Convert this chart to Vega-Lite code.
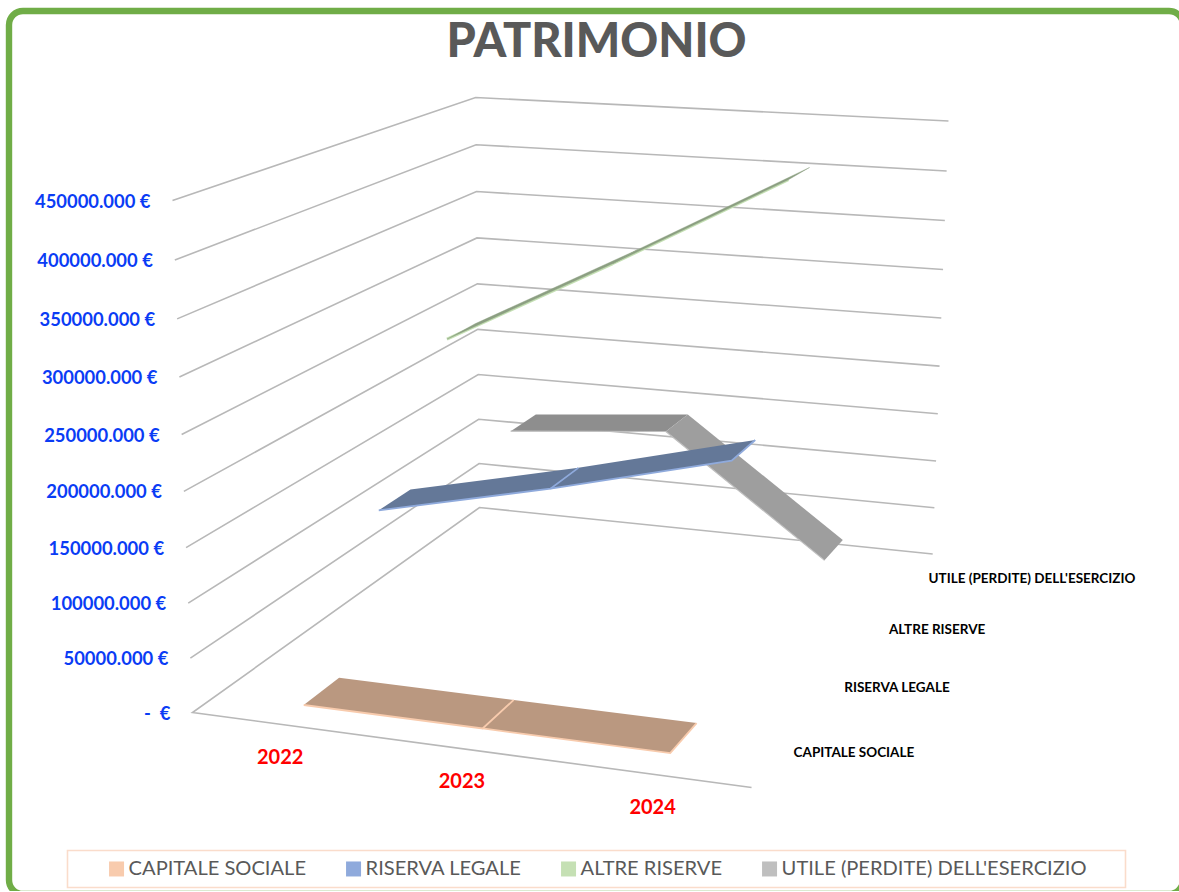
{"$schema":"https://vega.github.io/schema/vega-lite/v6.json","width":1174,"height":883,"padding":{"left":9,"top":11,"right":-4,"bottom":-3},"autosize":"none","background":"white","view":{"stroke":"#70AD47","strokeWidth":6.4,"cornerRadius":14,"fill":"white"},"datasets":{"series":[{"series":"UTILE (PERDITE) DELL'ESERCIZIO","year":2022,"value":124000},{"series":"UTILE (PERDITE) DELL'ESERCIZIO","year":2023,"value":138700},{"series":"UTILE (PERDITE) DELL'ESERCIZIO","year":2024,"value":20000},{"series":"ALTRE RISERVE","year":2022,"value":257400},{"series":"ALTRE RISERVE","year":2023,"value":342600},{"series":"ALTRE RISERVE","year":2024,"value":431400},{"series":"RISERVA LEGALE","year":2022,"value":132000},{"series":"RISERVA LEGALE","year":2023,"value":169000},{"series":"RISERVA LEGALE","year":2024,"value":210700},{"series":"CAPITALE SOCIALE","year":2022,"value":1000},{"series":"CAPITALE SOCIALE","year":2023,"value":1000},{"series":"CAPITALE SOCIALE","year":2024,"value":1000}],"levels":[{"level":0,"label":"- \u00a0€"},{"level":50000,"label":"50000.000 €"},{"level":100000,"label":"100000.000 €"},{"level":150000,"label":"150000.000 €"},{"level":200000,"label":"200000.000 €"},{"level":250000,"label":"250000.000 €"},{"level":300000,"label":"300000.000 €"},{"level":350000,"label":"350000.000 €"},{"level":400000,"label":"400000.000 €"},{"level":450000,"label":"450000.000 €"}],"years":[{"year":"2022"},{"year":"2023"},{"year":"2024"}],"names":[{"series":"CAPITALE SOCIALE"},{"series":"RISERVA LEGALE"},{"series":"ALTRE RISERVE"},{"series":"UTILE (PERDITE) DELL'ESERCIZIO"}]},"encoding":{"x":{"field":"px","type":"quantitative","axis":{"orient":"top","title":"PATRIMONIO","titleX":587,"titleY":45.5,"titleAlign":"center","titleAnchor":null,"titleBaseline":"alphabetic","titleFont":"Lato","titleFontWeight":900,"titleFontSize":46.8,"titleColor":"#595959","labels":false,"ticks":false,"domain":false,"grid":false},"scale":{"domain":[9.5,1183.5],"nice":false,"zero":false}},"y":{"field":"py","type":"quantitative","axis":null,"scale":{"domain":[893.5,10.5],"nice":false,"zero":false}}},"layer":[{"data":{"name":"levels"},"transform":[{"calculate":"datum.level===0?[0,1,2,3]:[1,2,3]","as":"step"},{"flatten":["step"]},{"calculate":"(datum.step===0||datum.step===3)?1:0","as":"u"},{"calculate":"datum.step>=2?1:0","as":"d"},{"calculate":"datum.level/450000","as":"v"},{"calculate":"1-0.07*datum.u+0.2615*datum.d-0.05*datum.v","as":"w"},{"calculate":"(193+506.4*datum.u+412.5*datum.d-28.65*datum.v)/datum.w","as":"px"},{"calculate":"(712+19.9*datum.u-72.4*datum.d-522*datum.v)/datum.w","as":"py"}],"mark":{"type":"line","color":"#B8B8B8","strokeWidth":1.6},"encoding":{"detail":{"field":"level"},"order":{"field":"step","type":"quantitative"}}},{"data":{"name":"series"},"transform":[{"calculate":"datum.year===2022?[0]:(datum.year===2023?[0,1]:[1])","as":"seg"},{"flatten":["seg"]},{"calculate":"[0,1]","as":"edge"},{"flatten":["edge"]},{"calculate":"datum.year-2022-datum.seg","as":"rel"},{"calculate":"datum.edge===0?datum.rel:3-datum.rel","as":"vertex"},{"calculate":"datum.series+' '+datum.seg","as":"part"},{"calculate":"datum.series==='CAPITALE SOCIALE'?'CAPITALE':(datum.series==='RISERVA LEGALE'?'RISERVA':(datum.series==='ALTRE RISERVE'?'ALTRE':(datum.seg===0?'UTILE A':'UTILE B')))","as":"shade"},{"calculate":"(datum.year-2022+0.5)/3","as":"u"},{"calculate":"(indexof(['CAPITALE SOCIALE','RISERVA LEGALE','ALTRE RISERVE',\"UTILE (PERDITE) DELL'ESERCIZIO\"],datum.series)+0.5)/4+(datum.edge===0?-0.055:0.055)","as":"d"},{"calculate":"datum.value/450000","as":"v"},{"calculate":"1-0.07*datum.u+0.2615*datum.d-0.05*datum.v","as":"w"},{"calculate":"(193+506.4*datum.u+412.5*datum.d-28.65*datum.v)/datum.w","as":"px"},{"calculate":"(712+19.9*datum.u-72.4*datum.d-522*datum.v)/datum.w","as":"py"}],"layer":[{"transform":[{"filter":"datum.shade==='UTILE A'||datum.shade==='UTILE B'"}],"mark":{"type":"line","strokeWidth":0,"interpolate":"linear-closed"},"encoding":{"fill":{"field":"shade","type":"nominal","legend":null,"scale":{"domain":["CAPITALE","RISERVA","ALTRE","UTILE A","UTILE B"],"range":["#BA9880","#647898","#8C9F82","#8E8E8E","#9E9E9E"]}},"detail":{"field":"part"},"order":{"field":"vertex","type":"quantitative"}}},{"transform":[{"filter":"(datum.shade==='UTILE A'||datum.shade==='UTILE B')&&datum.vertex<2"}],"mark":{"type":"line","strokeWidth":1.2},"encoding":{"stroke":{"field":"series","type":"nominal","scale":{"domain":["CAPITALE SOCIALE","RISERVA LEGALE","ALTRE RISERVE","UTILE (PERDITE) DELL'ESERCIZIO"],"range":["#F8CBAD","#8FAADC","#C5E0B4","#BFBFBF"]},"legend":{"title":"\u00a0","titleOrient":"right","titlePadding":31,"titleFontSize":2,"orient":"none","legendX":58.5,"legendY":839.5,"direction":"horizontal","columns":4,"symbolType":"square","symbolSize":225,"symbolStrokeWidth":0,"symbolOffset":31,"labelOffset":2,"labelFont":"Lato","labelFontSize":20.1,"labelColor":"#595959","labelLimit":500,"columnPadding":6,"padding":8,"fillColor":"white","strokeColor":"#FADCCB","encode":{"legend":{"update":{"strokeWidth":{"value":1.6}}},"symbols":{"update":{"fill":{"scale":"stroke","field":"value"}}}}}},"detail":{"field":"part"},"order":{"field":"vertex","type":"quantitative"}}},{"transform":[{"filter":"datum.series==='ALTRE RISERVE'&&datum.vertex<2"}],"mark":{"type":"line","strokeWidth":3},"encoding":{"stroke":{"field":"series","type":"nominal"},"detail":{"field":"part"},"order":{"field":"vertex","type":"quantitative"}}},{"transform":[{"filter":"datum.series==='ALTRE RISERVE'"}],"mark":{"type":"line","strokeWidth":0.4,"stroke":"#8C9F82","interpolate":"linear-closed"},"encoding":{"fill":{"field":"shade","type":"nominal","legend":null},"detail":{"field":"part"},"order":{"field":"vertex","type":"quantitative"}}},{"transform":[{"filter":"datum.series==='RISERVA LEGALE'||datum.series==='CAPITALE SOCIALE'"}],"mark":{"type":"line","strokeWidth":0,"interpolate":"linear-closed"},"encoding":{"fill":{"field":"shade","type":"nominal","legend":null},"detail":{"field":"part"},"order":{"field":"vertex","type":"quantitative"}}},{"transform":[{"filter":"(datum.series==='RISERVA LEGALE'||datum.series==='CAPITALE SOCIALE')&&datum.vertex<3"}],"mark":{"type":"line","strokeWidth":1.8},"encoding":{"stroke":{"field":"series","type":"nominal"},"detail":{"field":"part"},"order":{"field":"vertex","type":"quantitative"}}}]},{"data":{"name":"levels"},"transform":[{"calculate":"datum.level/450000","as":"v"},{"calculate":"1-0.05*datum.v","as":"w"},{"calculate":"(193-28.65*datum.v)/datum.w","as":"px"},{"calculate":"(712-522*datum.v)/datum.w","as":"py"}],"mark":{"type":"text","align":"right","baseline":"middle","dx":-22,"dy":1,"font":"Lato","fontWeight":"bold","fontSize":18.4,"color":"#0A3CF5"},"encoding":{"text":{"field":"label"}}},{"data":{"name":"years"},"transform":[{"calculate":"(toNumber(datum.year)-2022+0.5)/3","as":"u"},{"calculate":"1-0.07*datum.u","as":"w"},{"calculate":"(193+506.4*datum.u)/datum.w","as":"px"},{"calculate":"(712+19.9*datum.u)/datum.w","as":"py"}],"mark":{"type":"text","align":"center","baseline":"middle","dy":33.5,"font":"Lato","fontWeight":"bold","fontSize":20,"color":"#FF0000"},"encoding":{"text":{"field":"year"}}},{"data":{"name":"names"},"transform":[{"calculate":"(indexof(['CAPITALE SOCIALE','RISERVA LEGALE','ALTRE RISERVE',\"UTILE (PERDITE) DELL'ESERCIZIO\"],datum.series)+0.5)/4","as":"d"},{"calculate":"0.93+0.2615*datum.d","as":"w"},{"calculate":"(699.4+412.5*datum.d)/datum.w","as":"px"},{"calculate":"(731.9-72.4*datum.d)/datum.w","as":"py"}],"mark":{"type":"text","align":"left","baseline":"middle","dx":14,"dy":1.5,"font":"Lato","fontWeight":"bold","fontSize":13.5,"color":"#000000"},"encoding":{"text":{"field":"series"}}}]}
